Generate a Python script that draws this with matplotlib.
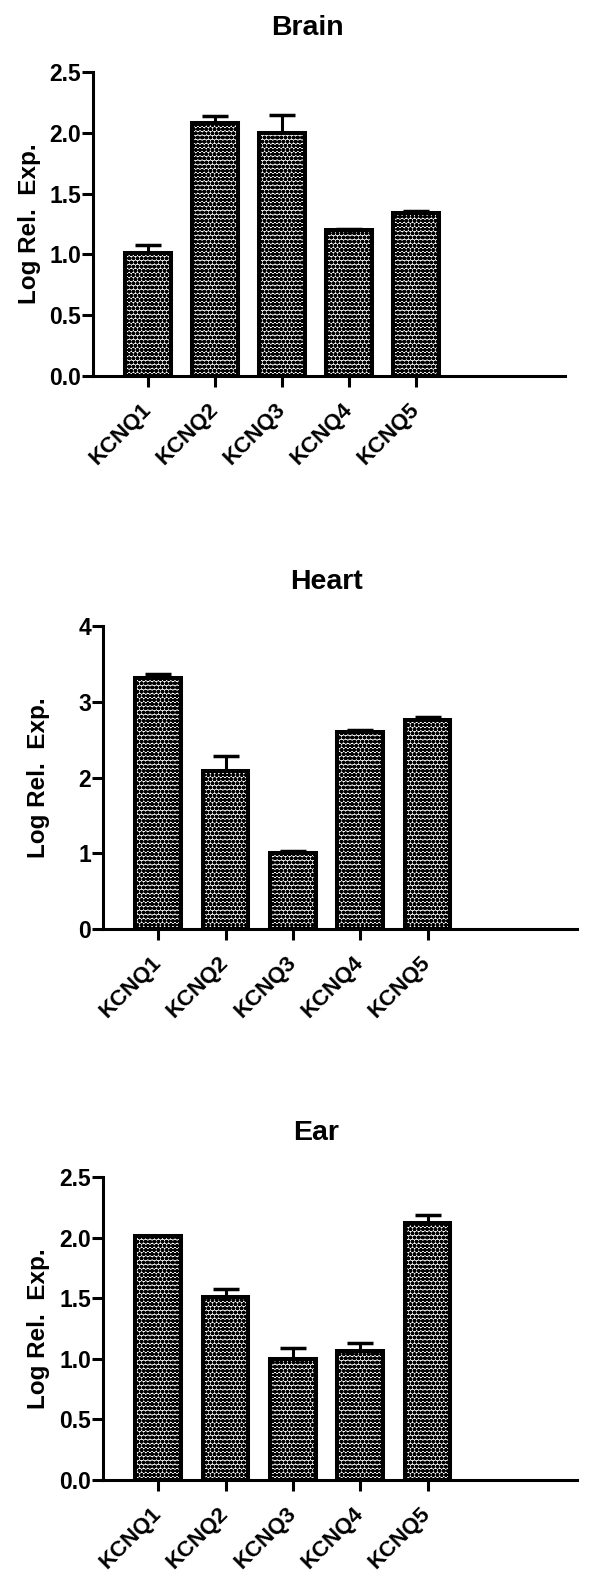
import matplotlib
matplotlib.use("Agg")
import matplotlib.pyplot as plt
import numpy as np

plt.rcParams['font.family'] = ['Liberation Sans', 'DejaVu Sans']
plt.rcParams['font.weight'] = 'bold'
plt.rcParams['hatch.linewidth'] = 1.4
plt.rcParams['hatch.color'] = 'black'

genes = ['KCNQ1', 'KCNQ2', 'KCNQ3', 'KCNQ4', 'KCNQ5']

brain_vals = [1.01, 2.08, 2.00, 1.20, 1.34]
brain_err = [0.07, 0.06, 0.15, 0.01, 0.015]
brain_ticks = [0.0, 0.5, 1.0, 1.5, 2.0, 2.5]
brain_ticklabels = ['0.0', '0.5', '1.0', '1.5', '2.0', '2.5']

heart_vals = [3.32, 2.08, 1.00, 2.60, 2.76]
heart_err = [0.05, 0.20, 0.03, 0.03, 0.045]
heart_ticks = [0, 1, 2, 3, 4]
heart_ticklabels = ['0', '1', '2', '3', '4']

ear_vals = [2.01, 1.51, 1.00, 1.066, 2.12]
ear_err = [0.006, 0.065, 0.085, 0.065, 0.07]
ear_ticks = [0.0, 0.5, 1.0, 1.5, 2.0, 2.5]
ear_ticklabels = ['0.0', '0.5', '1.0', '1.5', '2.0', '2.5']

H = 1591.0
panels = [
    ('Brain', brain_vals, brain_err, brain_ticks, brain_ticklabels,
     [93/600, 1-376/H, 472/600, 304/H], 0.455),
    ('Heart', heart_vals, heart_err, heart_ticks, heart_ticklabels,
     [103/600, 1-929/H, 474/600, 303/H], 0.471),
    ('Ear', ear_vals, ear_err, ear_ticks, ear_ticklabels,
     [103/600, 1-1480/H, 474/600, 303/H], 0.45),
]

fig = plt.figure(figsize=(6.0, 15.91), dpi=100)

for title, vals, err, ticks, ticklabels, rect, tx in panels:
    ax = fig.add_axes(rect)
    x = np.arange(len(genes))
    ax.errorbar(x, vals, yerr=[np.zeros(len(err)), err], fmt='none',
                ecolor='black', elinewidth=2.2, capsize=9.4, capthick=2.5,
                zorder=2)
    ax.bar(x, vals, width=0.68, facecolor='white', edgecolor='black',
           linewidth=2.9, hatch='oooo', zorder=3)
    ax.set_xlim(-0.82, 6.22)
    ax.set_ylim(0, ticks[-1])
    ax.set_yticks(ticks)
    ax.set_yticklabels(ticklabels, fontsize=16.5, fontweight='bold')
    ax.set_xticks(x)
    ax.set_xticklabels(genes, fontsize=16, fontweight='bold', rotation=45,
                       ha='right', va='center', rotation_mode='anchor')
    ax.tick_params(axis='y', length=8, width=2.2, pad=0.5, direction='out')
    ax.tick_params(axis='x', length=8, width=2.2, pad=14, direction='out')
    for s in ['top', 'right']:
        ax.spines[s].set_visible(False)
    for s in ['left', 'bottom']:
        ax.spines[s].set_linewidth(2.2)
    ax.set_ylabel('Log Rel.  Exp.', fontsize=17.5, fontweight='bold')
    ax.yaxis.set_label_coords(-0.111, 0.5)
    ax.text(tx, 1.145, title, transform=ax.transAxes, ha='center',
            va='center', fontsize=20.5, fontweight='bold')

fig.savefig('out.png', dpi=100)
